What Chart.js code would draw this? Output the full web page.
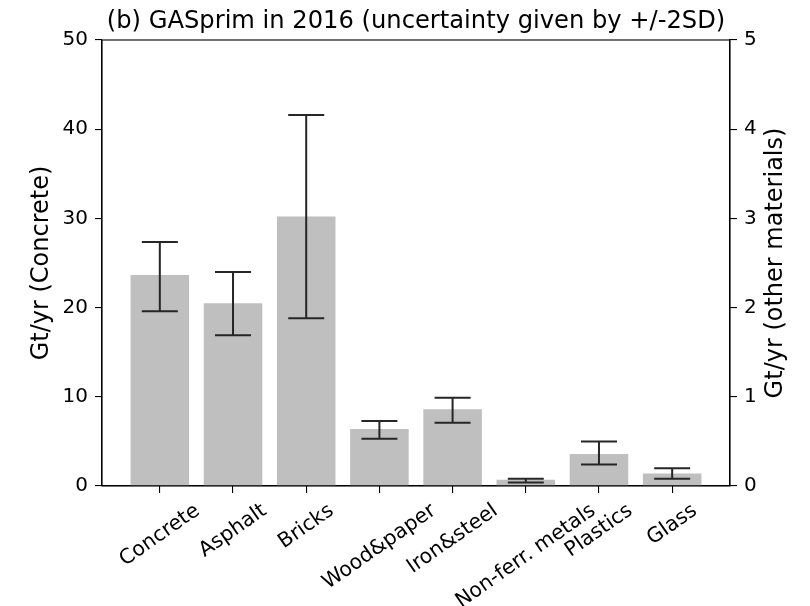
<!DOCTYPE html>
<html>
<head>
<meta charset="utf-8">
<script src="https://cdn.jsdelivr.net/npm/chart.js@4/dist/chart.umd.min.js"></script>
<style>
html,body{margin:0;padding:0;background:#fff;}
#wrap{width:810px;height:606px;position:relative;}
</style>
</head>
<body>
<div id="wrap"><canvas id="c" width="810" height="606"></canvas></div>
<script>
// ---- data (Gt/yr) ----
const categories = ["Concrete","Asphalt","Bricks","Wood&paper","Iron&steel","Non-ferr. metals","Plastics","Glass"];
const concreteValue = [23.65];
const concreteLow = [19.6];
const concreteHigh = [27.35];
const otherValues = [2.05, 3.02, 0.64, 0.86, 0.07, 0.36, 0.14];
const otherLow    = [1.69, 1.88, 0.53, 0.71, 0.04, 0.24, 0.08];
const otherHigh   = [2.40, 4.16, 0.73, 0.99, 0.08, 0.50, 0.20];
const leftTicks = [0,10,20,30,40,50];
const rightTicks = [0,1,2,3,4,5];
const titleText = "(b) GASprim in 2016 (uncertainty given by +/-2SD)";
const leftLabel = "Gt/yr (Concrete)";
const rightLabel = "Gt/yr (other materials)";

const FONT = "'DejaVu Sans', sans-serif";
const concreteData = concreteValue.map((v,i)=>({x:i, y:v}));
const otherData = otherValues.map((v,i)=>({x:i+1, y:v}));

const errorPlugin = {
  id:'errs',
  afterDatasetsDraw(chart){
    const ctx = chart.ctx, xs = chart.scales.x, y = chart.scales.y, y1 = chart.scales.y1;
    ctx.save();
    ctx.strokeStyle = '#262626';
    ctx.lineWidth = 2;
    const draw = (i, lo, hi, sc) => {
      const px = xs.getPixelForValue(i);
      const pl = sc.getPixelForValue(lo), ph = sc.getPixelForValue(hi);
      ctx.beginPath();
      ctx.moveTo(px, pl); ctx.lineTo(px, ph);
      ctx.moveTo(px-18, pl); ctx.lineTo(px+18, pl);
      ctx.moveTo(px-18, ph); ctx.lineTo(px+18, ph);
      ctx.stroke();
    };
    concreteValue.forEach((v,i)=>draw(i, concreteLow[i], concreteHigh[i], y));
    otherValues.forEach((v,i)=>draw(i+1, otherLow[i], otherHigh[i], y1));
    ctx.restore();
  }
};

const textPlugin = {
  id:'texts',
  afterDraw(chart){
    const ctx = chart.ctx, a = chart.chartArea, xs = chart.scales.x;
    ctx.save();
    // frame
    ctx.strokeStyle = '#000'; ctx.lineWidth = 1.1;
    ctx.strokeRect(a.left, a.top, a.right-a.left, a.bottom-a.top);
    ctx.fillStyle = '#000';
    // title
    ctx.font = "24.2px " + FONT;
    ctx.textAlign = 'center'; ctx.textBaseline = 'alphabetic';
    ctx.fillText(titleText, (a.left+a.right)/2, 28);
    // axis labels
    ctx.font = "24px " + FONT;
    ctx.textBaseline = 'middle';
    ctx.save(); ctx.translate(42, (a.top+a.bottom)/2); ctx.rotate(-Math.PI/2);
    ctx.fillText(leftLabel, 0, 0); ctx.restore();
    ctx.save(); ctx.translate(776, (a.top+a.bottom)/2); ctx.rotate(-Math.PI/2);
    ctx.fillText(rightLabel, 0, 0); ctx.restore();
    // x tick labels, matplotlib-style rotated & centered
    const th = 35*Math.PI/180;
    ctx.font = "20.5px " + FONT;
    const h = 24;
    categories.forEach((lab,i)=>{
      const w = ctx.measureText(lab).width;
      const H = w*Math.sin(th) + h*Math.cos(th);
      const cx = xs.getPixelForValue(i), cy = a.bottom + 13 + H/2;
      ctx.save(); ctx.translate(cx, cy); ctx.rotate(-th);
      ctx.textAlign='center'; ctx.textBaseline='middle';
      ctx.fillText(lab, 0, 0); ctx.restore();
    });
    ctx.restore();
  }
};

new Chart(document.getElementById('c'), {
  type:'bar',
  data:{
    datasets:[
      {data: concreteData, yAxisID:'y', backgroundColor:'#bfbfbf', borderWidth:0, grouped:false, categoryPercentage:0.8, barPercentage:1.0},
      {data: otherData, yAxisID:'y1', backgroundColor:'#bfbfbf', borderWidth:0, grouped:false, categoryPercentage:0.8, barPercentage:1.0}
    ]
  },
  options:{
    responsive:false, animation:false, devicePixelRatio:1,
    layout:{padding:{top:40,left:0,right:0,bottom:0}},
    plugins:{legend:{display:false}, tooltip:{enabled:false}, title:{display:false}},
    scales:{
      x:{type:'linear', min:-0.79, max:7.79, offset:false,
         afterBuildTicks(s){ s.ticks = categories.map((c,i)=>({value:i})); },
         afterFit(s){ s.height = 120; },
         grid:{display:true, offset:false, drawOnChartArea:false, drawTicks:true, tickLength:7, color:'#000', lineWidth:1.1},
         border:{display:true, color:'#000', width:1.1},
         ticks:{display:false}
      },
      y:{type:'linear', position:'left', min:0, max:50,
         afterBuildTicks(s){ s.ticks = leftTicks.map(v=>({value:v})); },
         afterFit(s){ s.width = 102; },
         grid:{display:true, drawOnChartArea:false, drawTicks:true, tickLength:7, color:'#000', lineWidth:1.1},
         border:{display:true, color:'#000', width:1.1},
         ticks:{color:'#000', padding:7, font:{family:FONT, size:20}}
      },
      y1:{type:'linear', position:'right', min:0, max:5,
         afterBuildTicks(s){ s.ticks = rightTicks.map(v=>({value:v})); },
         afterFit(s){ s.width = 80; },
         grid:{display:true, drawOnChartArea:false, drawTicks:true, tickLength:7, color:'#000', lineWidth:1.1},
         border:{display:true, color:'#000', width:1.1},
         ticks:{color:'#000', padding:7, font:{family:FONT, size:20}}
      }
    }
  },
  plugins:[errorPlugin, textPlugin]
});
</script>
</body>
</html>
